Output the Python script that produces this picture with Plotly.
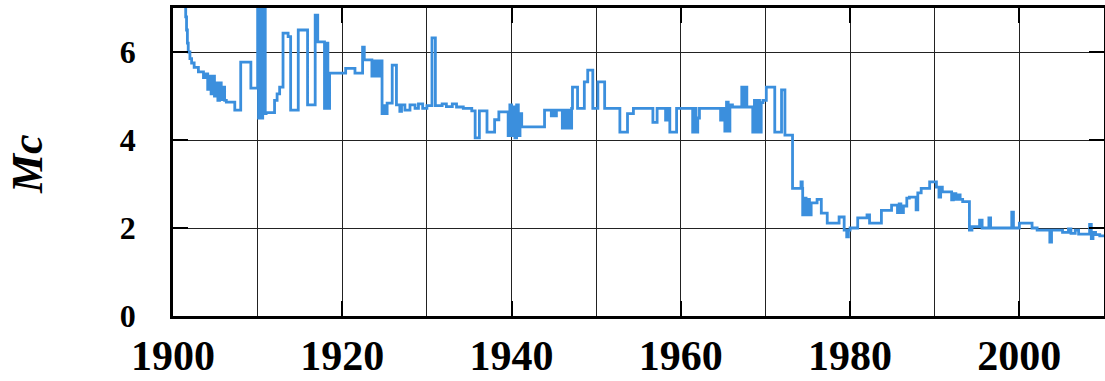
import plotly.graph_objects as go

# Magnitude of completeness (Mc) through time, drawn as a step series.
# Each value holds from its start year until the next start year.
years = [
    1900.0, 1901.4, 1901.5, 1901.6, 1901.7, 1901.8, 1902.0, 1902.2, 1902.5, 1903.0,
    1903.6, 1903.9, 1904.1, 1904.3, 1904.5, 1904.7, 1904.9, 1905.1, 1905.3, 1905.5,
    1905.7, 1905.9, 1906.1, 1906.3, 1907.3, 1908.0, 1909.2,
    1910.0, 1910.1, 1910.2, 1910.3, 1910.4, 1910.5, 1910.6, 1910.7, 1910.8, 1910.9,
    1911.0, 1912.0, 1912.3, 1912.6, 1913.0, 1913.6, 1913.9, 1914.8, 1915.9, 1916.8,
    1917.1, 1917.9, 1918.1, 1918.3, 1918.5, 1920.4, 1921.5, 1922.4, 1922.6,
    1923.5, 1923.7, 1923.9, 1924.1, 1924.3, 1924.5, 1924.7, 1924.9, 1925.1, 1925.3,
    1925.9, 1926.4, 1926.8, 1927.0, 1927.4, 1928.0, 1928.6, 1929.0, 1929.5, 1930.0,
    1930.6, 1931.0, 1931.8, 1932.3, 1933.0, 1933.5, 1934.3, 1935.3, 1935.7, 1936.2,
    1937.1, 1938.0, 1938.5, 1939.6, 1939.8, 1940.0, 1940.2, 1940.4, 1940.6, 1940.8,
    1941.0, 1941.2, 1943.9, 1944.7, 1944.9, 1945.1, 1945.3, 1946.0, 1946.2, 1946.4,
    1946.6, 1946.8, 1947.1, 1947.2, 1947.8, 1948.6, 1949.0, 1949.6, 1950.2, 1951.0,
    1952.8, 1953.7, 1954.4, 1956.7, 1957.2, 1958.2, 1958.4, 1958.7, 1959.5, 1961.4,
    1961.6, 1961.8, 1962.0, 1962.2, 1964.7, 1964.9, 1965.2, 1965.4, 1965.6, 1965.8,
    1966.1, 1967.2, 1967.4, 1967.6, 1967.8, 1968.1, 1968.5, 1968.7, 1968.9, 1969.1,
    1969.3, 1969.5, 1969.7, 1970.1, 1971.1, 1971.9, 1972.3, 1973.2, 1974.2, 1974.35,
    1974.4, 1974.6, 1974.8, 1975.0, 1975.2, 1975.4, 1976.1, 1976.6, 1977.3, 1978.7,
    1979.3, 1979.6, 1979.8, 1980.0, 1980.9, 1982.0, 1982.3, 1983.7, 1984.9, 1985.6,
    1985.8, 1986.0, 1986.3, 1986.7, 1987.0, 1987.8, 1988.0, 1988.4, 1989.4, 1990.2,
    1990.5, 1990.7, 1990.9, 1992.0, 1992.2, 1992.5, 1992.8, 1993.0, 1993.3, 1994.1,
    1994.4, 1995.3, 1995.6, 1996.4, 1996.6, 1999.1, 1999.3, 2000.0, 2001.5, 2002.1,
    2003.6, 2003.8, 2005.1, 2005.8, 2006.1, 2006.6, 2007.0, 2008.3, 2008.5, 2008.7,
    2009.0, 2009.5, 2010.0,
]
mc = [
    8.5, 7.2, 6.8, 6.5, 6.2, 6.0, 5.85, 5.75, 5.65, 5.55,
    5.42, 5.5, 5.15, 5.45, 5.05, 5.45, 5.0, 5.3, 4.9, 5.3,
    4.92, 5.2, 4.9, 4.86, 4.68, 5.77, 5.18,
    7.3, 4.5, 7.3, 4.55, 7.3, 4.5, 7.2, 4.6, 7.0, 4.6,
    4.62, 4.9, 5.05, 5.2, 6.43, 6.35, 4.68, 6.5, 4.8, 6.84,
    6.23, 4.72, 6.2, 4.72, 5.52, 5.63, 5.52, 6.11, 5.82,
    5.45, 5.8, 5.45, 5.8, 5.45, 5.8, 4.6, 4.78, 4.6, 4.84,
    5.7, 4.8, 4.65, 4.8, 4.68, 4.8, 4.72, 4.82, 4.72, 4.78,
    6.32, 4.78, 4.82, 4.76, 4.82, 4.75, 4.72, 4.66, 4.05, 4.66,
    4.18, 4.46, 4.64, 4.1, 4.8, 4.1, 4.75, 4.05, 4.8, 4.1,
    4.6, 4.3, 4.68, 4.55, 4.68, 4.55, 4.68, 4.27, 4.68, 4.27,
    4.68, 4.27, 4.72, 5.2, 4.72, 5.32, 5.59, 4.72, 5.32, 4.72,
    4.18, 4.6, 4.72, 4.4, 4.72, 4.45, 4.72, 4.18, 4.72, 4.18,
    4.72, 4.18, 4.5, 4.72, 4.45, 4.72, 4.2, 4.86, 4.2, 4.8,
    4.75, 5.2, 4.75, 5.2, 4.75, 4.75, 4.18, 4.9, 4.18, 4.9,
    4.18, 4.85, 4.9, 5.2, 4.18, 5.14, 4.11, 2.9, 3.05, 2.9,
    2.3, 2.68, 2.3, 2.65, 2.3, 2.57, 2.65, 2.34, 2.11, 2.25,
    1.95, 1.8, 1.95, 2.0, 2.23, 2.3, 2.11, 2.4, 2.52, 2.35,
    2.55, 2.35, 2.5, 2.68, 2.7, 2.41, 2.8, 2.9, 3.05, 2.93,
    2.7, 2.93, 2.82, 2.64, 2.78, 2.65, 2.75, 2.65, 2.6, 1.95,
    2.03, 2.18, 2.0, 2.23, 2.0, 2.36, 2.0, 2.11, 2.0, 1.95,
    1.68, 1.95, 1.9, 1.98, 1.88, 1.95, 1.86, 2.08, 1.76, 1.9,
    1.85, 1.82, 1.82,
]

x_ticks = [1900, 1920, 1940, 1960, 1980, 2000]
x_tick_text = ["1900", "1920", "1940", "1960", "1980", "2000"]
y_ticks = [0, 2, 4, 6]
y_tick_text = ["0", "2", "4", "6"]

SERIF = "Liberation Serif"

fig = go.Figure()
fig.add_trace(go.Scatter(
    x=years, y=mc, mode="lines", line_shape="hv",
    line=dict(color="#3b8fdd", width=2.8),
    showlegend=False, hoverinfo="skip",
))

fig.update_layout(
    width=1105, height=381,
    margin=dict(l=173, r=1, t=8, b=65),
    paper_bgcolor="white", plot_bgcolor="white",
    font=dict(family=SERIF, color="black"),
)

fig.update_xaxes(
    range=[1900, 2010], tickvals=x_ticks, ticktext=x_tick_text,
    tickfont=dict(family=SERIF, size=42, weight="bold", color="black"),
    ticks="inside", ticklen=15, tickwidth=2, tickcolor="black",
    ticklabelstandoff=1, automargin=False,
    showgrid=True, gridcolor="#222222", gridwidth=1.3,
    minor=dict(dtick=10, tick0=1900, showgrid=True, gridcolor="#222222", gridwidth=1.3, ticks=""),
    showline=True, linecolor="black", linewidth=2.6, mirror="ticks",
    zeroline=False,
)
fig.update_yaxes(
    range=[0, 7], tickvals=y_ticks, ticktext=y_tick_text,
    tickfont=dict(family=SERIF, size=32, weight="bold", color="black"),
    ticks="inside", ticklen=15, tickwidth=2, tickcolor="black",
    ticklabelstandoff=28, automargin=False,
    showgrid=True, gridcolor="#222222", gridwidth=1.3,
    showline=True, linecolor="black", linewidth=2.6, mirror="ticks",
    zeroline=False,
)

fig.add_annotation(
    text="Mc", xref="paper", yref="paper",
    x=-0.1567, y=0.4935, xanchor="center", yanchor="middle",
    textangle=-90, showarrow=False,
    font=dict(family=SERIF, size=44, weight="bold", style="italic", color="black"),
)

fig.write_html("out.html", config={"displayModeBar": False})
